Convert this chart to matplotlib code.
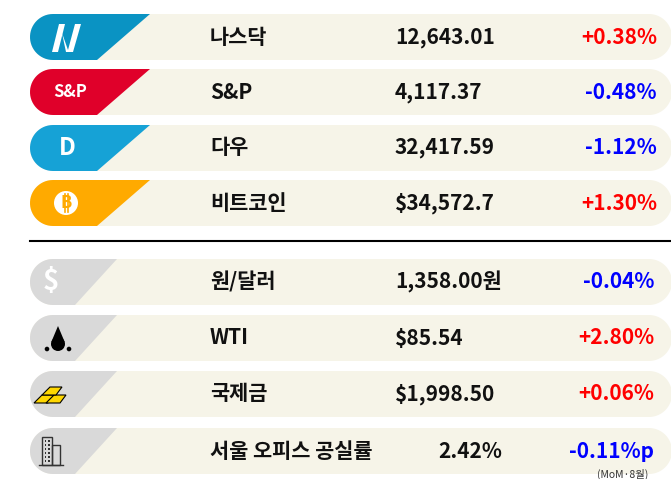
import numpy as np
import matplotlib.pyplot as plt
from matplotlib.patches import Polygon, Circle, Rectangle

plt.rcParams['font.family'] = ['Noto Sans CJK KR', 'DejaVu Sans']

names = ['나스닥', 'S&P', '다우', '비트코인', '원/달러', 'WTI', '국제금', '서울 오피스 공실률']
values = ['12,643.01', '4,117.37', '32,417.59', '$34,572.7', '1,358.00원', '$85.54', '$1,998.50', '2.42%']
changes = ['+0.38%', '-0.48%', '-1.12%', '+1.30%', '-0.04%', '+2.80%', '+0.06%', '-0.11%p']
icon_colors = ['#0A93C3', '#E0002A', '#16A2D6', '#FFAA00', '#D9D9D9', '#D9D9D9', '#D9D9D9', '#D9D9D9']
row_tops = [14, 69, 125, 180, 259, 315, 371, 428]

H = 46
R = H / 2
X0, X1 = 30, 672
BG = '#F6F4E8'

fig = plt.figure(figsize=(6.71, 4.79), dpi=100)
ax = fig.add_axes([0, 0, 1, 1])
ax.set_xlim(0, 671)
ax.set_ylim(479, 0)
ax.axis('off')


def arc(cx, cy, a0, a1, n=30):
    t = np.radians(np.linspace(a0, a1, n))
    return np.column_stack([cx + R * np.cos(t), cy - R * np.sin(t)])


for i, name in enumerate(names):
    top = row_tops[i]
    yc = top + R
    # background bar, rounded both ends
    pts = np.vstack([arc(X0 + R, yc, 90, 270), arc(X1 - R, yc, 270, 450)])
    ax.add_patch(Polygon(pts, closed=True, fc=BG, ec='none'))
    # icon tab: rounded left end, slanted right edge
    if i < 4:
        xt, xb = 150, 97
    else:
        xt, xb = 117, 75
    pts = np.vstack([arc(X0 + R, yc, 90, 270), [[xb, top + H], [xt, top]]])
    ax.add_patch(Polygon(pts, closed=True, fc=icon_colors[i], ec='none'))

    col = 'red' if changes[i].startswith('+') else 'blue'
    kw = dict(fontsize=15, fontweight='bold', va='center')
    ax.text(210, yc, name, ha='left', color='#111', **kw)
    vx = 438 if i == 7 else 395
    ax.text(vx, yc, values[i], ha='left', color='#111', **kw)
    ax.text(657 if i < 4 else 654, yc, changes[i], ha='right', color=col, **kw)

# icon glyphs
yc = [t + R for t in row_tops]
ax.add_patch(Polygon([[52, 52], [59, 24], [65, 24], [58, 52]], fc='white'))
ax.add_patch(Polygon([[62, 33], [68, 50], [75, 24], [81, 24], [73, 52], [66, 52]], fc='white'))
ax.text(70, yc[1], 'S&P', color='white', fontsize=12, fontweight='bold', ha='center', va='center')
ax.text(67, yc[2], 'D', color='white', fontsize=17, fontweight='bold', ha='center', va='center')
ax.add_patch(Circle((66, yc[3]), 12, fc='white'))
ax.text(66, yc[3], 'B', color='#FFAA00', fontsize=12, fontweight='bold', ha='center', va='center')
for dx in (-1.5, 1.5):
    ax.plot([66 + dx, 66 + dx], [yc[3] - 9, yc[3] + 9], color='#FFAA00', lw=1.2)
ax.text(51, yc[4], '$', color='white', fontsize=20, fontweight='bold', ha='center', va='center')
ax.add_patch(Circle((58, yc[5] + 6), 7, fc='black'))
ax.add_patch(Polygon([[51.3, yc[5] + 4], [58, yc[5] - 12], [64.7, yc[5] + 4]], fc='black'))
ax.add_patch(Circle((47, yc[5] + 11), 2.3, fc='black'))
ax.add_patch(Circle((69, yc[5] + 11), 2.3, fc='black'))
for dx, dy in [(0, 4), (12, 4), (8, -4)]:
    ax.add_patch(Polygon([[34 + dx, yc[6] + 5 + dy], [42 + dx, yc[6] - 3 + dy],
                          [54 + dx, yc[6] - 3 + dy], [48 + dx, yc[6] + 5 + dy]],
                         fc='#FFD700', ec='black', lw=0.8))
ax.add_patch(Rectangle((42, yc[7] - 14), 10, 28, fc='none', ec='#333', lw=1))
ax.add_patch(Rectangle((52, yc[7] - 6), 8, 20, fc='none', ec='#333', lw=1))
for r in range(6):
    for c in range(2):
        ax.add_patch(Rectangle((44.5 + c * 3.5, yc[7] - 11 + r * 4), 1.5, 1.5, fc='#333'))
ax.plot([39, 63], [yc[7] + 14, yc[7] + 14], color='#333', lw=1)

ax.plot([30, 670], [241, 241], color='black', lw=1.5)
ax.text(648, 474, '(MoM·8월)', fontsize=7.5, ha='right', va='center', color='#333')

fig.savefig('out.png', dpi=100)
